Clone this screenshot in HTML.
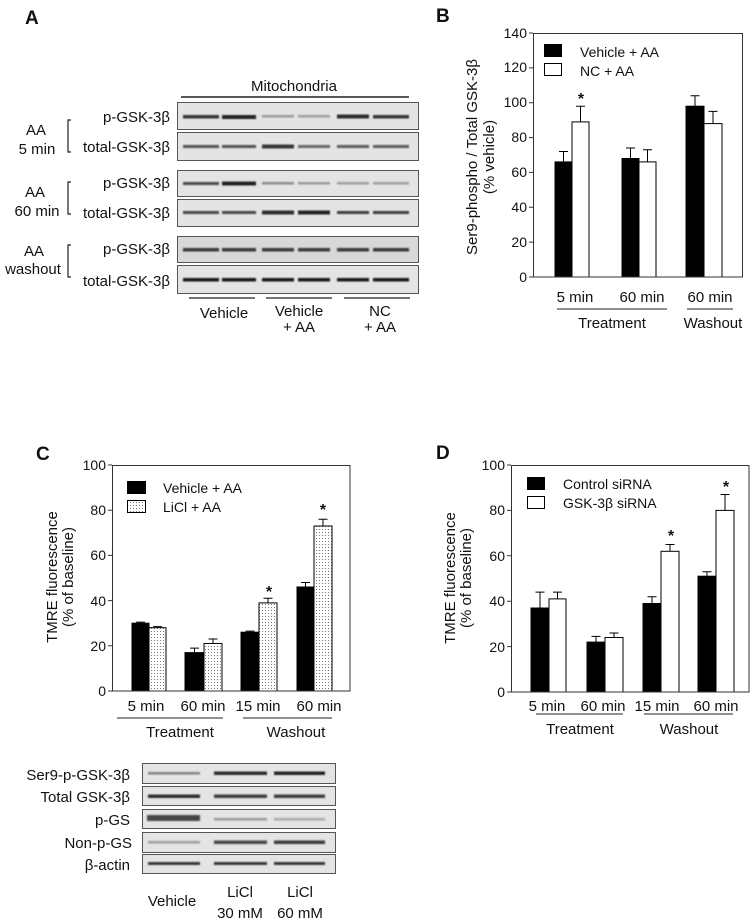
<!DOCTYPE html>
<html><head><meta charset="utf-8"><style>body{margin:0;background:#fff}svg{display:block}text{font-family:"Liberation Sans",sans-serif;fill:#111}</style></head><body>
<svg width="755" height="922" viewBox="0 0 755 922" xmlns="http://www.w3.org/2000/svg">
<defs>
<pattern id="dots" width="3" height="3" patternUnits="userSpaceOnUse"><rect width="3" height="3" fill="#fff"/><rect x="1" y="1" width="1" height="1" fill="#777"/></pattern>
<filter id="bl" x="-20%" y="-100%" width="140%" height="300%"><feGaussianBlur stdDeviation="0.9"/></filter>
</defs>
<g font-size="14">
<!-- Panel A -->
<text x="25" y="24" font-size="19" font-weight="bold">A</text>
<g font-size="15">
<text x="294" y="91" text-anchor="middle">Mitochondria</text>
</g>
<line x1="181" y1="97" x2="409" y2="97" stroke="#222" stroke-width="1.5"/>
<g fill="#e4e4e4" stroke="#555" stroke-width="1">
<rect x="177.5" y="102.5" width="241" height="27"/><rect x="177.5" y="132.5" width="241" height="28"/>
<rect x="177.5" y="170.5" width="241" height="26"/><rect x="177.5" y="199.5" width="241" height="27"/>
<rect x="177.5" y="236.5" width="241" height="26" fill="#d8d8d8"/><rect x="177.5" y="265.5" width="241" height="28"/>
</g>
<g filter="url(#bl)">
<g fill="#222"><rect x="183" y="115" width="36" height="3.5" opacity=".9"/><rect x="222" y="115" width="34" height="4" opacity="1"/><rect x="262" y="115" width="32" height="2.5" opacity=".4"/><rect x="298" y="115" width="32" height="2.5" opacity=".35"/><rect x="337" y="114.5" width="32" height="4" opacity=".95"/><rect x="373" y="115" width="36" height="3.5" opacity=".9"/></g>
<g fill="#222"><rect x="183" y="145" width="36" height="3" opacity=".75"/><rect x="222" y="145" width="34" height="3" opacity=".75"/><rect x="262" y="144.5" width="32" height="4" opacity=".9"/><rect x="298" y="145" width="32" height="3" opacity=".65"/><rect x="337" y="145" width="32" height="3" opacity=".7"/><rect x="373" y="145" width="36" height="3" opacity=".7"/></g>
<g fill="#222"><rect x="183" y="182" width="36" height="3" opacity=".8"/><rect x="222" y="181.5" width="34" height="4" opacity="1"/><rect x="262" y="182" width="32" height="2.5" opacity=".45"/><rect x="298" y="182" width="32" height="2.5" opacity=".4"/><rect x="337" y="182" width="32" height="2.5" opacity=".35"/><rect x="373" y="182" width="36" height="2.5" opacity=".35"/></g>
<g fill="#222"><rect x="183" y="211" width="36" height="3" opacity=".8"/><rect x="222" y="211" width="34" height="3" opacity=".8"/><rect x="262" y="210.5" width="32" height="4" opacity=".95"/><rect x="298" y="210.5" width="32" height="4" opacity="1"/><rect x="337" y="211" width="32" height="3" opacity=".85"/><rect x="373" y="211" width="36" height="3" opacity=".85"/></g>
<g fill="#222" opacity=".85"><rect x="183" y="248" width="36" height="3.5"/><rect x="222" y="248" width="34" height="3.5"/><rect x="262" y="248" width="32" height="3.5"/><rect x="298" y="248" width="32" height="3.5"/><rect x="337" y="248" width="32" height="3.5"/><rect x="373" y="248" width="36" height="3.5"/></g>
<g fill="#111" opacity=".95"><rect x="183" y="278" width="36" height="3.5"/><rect x="222" y="278" width="34" height="3.5"/><rect x="262" y="278" width="32" height="3.5"/><rect x="298" y="278" width="32" height="3.5"/><rect x="337" y="278" width="32" height="3.5"/><rect x="373" y="278" width="36" height="3.5"/></g>
</g>
<g font-size="15">
<g text-anchor="end">
<text x="170" y="122">p-GSK-3β</text><text x="170" y="152">total-GSK-3β</text>
<text x="170" y="188">p-GSK-3β</text><text x="170" y="218">total-GSK-3β</text>
<text x="170" y="254">p-GSK-3β</text><text x="170" y="286">total-GSK-3β</text>
</g>
<g text-anchor="middle">
<text x="36" y="135">AA</text><text x="37" y="154">5 min</text>
<text x="35" y="197">AA</text><text x="37" y="216">60 min</text>
<text x="34" y="256">AA</text><text x="33" y="274">washout</text>
</g>
<g text-anchor="middle"><text x="224" y="318">Vehicle</text><text x="299" y="316">Vehicle</text><text x="299" y="332">+ AA</text><text x="380" y="316">NC</text><text x="380" y="332">+ AA</text></g>
</g>
<g fill="none" stroke="#222" stroke-width="1.2">
<path d="M71 120 H68 V152 H71"/><path d="M71 182 H68 V214 H71"/><path d="M71 245 H68 V277 H71"/>
</g>
<g stroke="#222" stroke-width="1.2"><line x1="189" y1="298" x2="255" y2="298"/><line x1="266" y1="298" x2="332" y2="298"/><line x1="344" y1="298" x2="410" y2="298"/></g>

<!-- Panel B -->
<text x="436" y="22" font-size="19" font-weight="bold">B</text>
<g fill="#000" stroke="#000"><rect x="555" y="161.9" width="17" height="115.1"/><rect x="622" y="158.5" width="17" height="118.5"/><rect x="686" y="106.2" width="18" height="170.8"/></g>
<g fill="#fff" stroke="#000"><rect x="572" y="121.9" width="17" height="155.1"/><rect x="639" y="161.9" width="17" height="115.1"/><rect x="704" y="123.6" width="18" height="153.4"/></g>
<g stroke="#000" stroke-width="1">
<path d="M563.5 161.9V151.5M559 151.5H568"/><path d="M580.5 121.9V106.2M576 106.2H585"/>
<path d="M630.5 158.5V148M626 148H635"/><path d="M647.5 161.9V149.8M643 149.8H652"/>
<path d="M695 106.2V95.7M690.5 95.7H699.5"/><path d="M713 123.6V111.4M708.5 111.4H717.5"/>
</g>
<text x="581" y="104" text-anchor="middle" font-size="16" font-weight="bold">*</text>
<rect x="533.5" y="33.5" width="209" height="243.5" fill="none" stroke="#333"/>
<g stroke="#333"><path d="M529 277H533M529 242.1H533M529 207.3H533M529 172.4H533M529 137.6H533M529 102.7H533M529 67.9H533M529 33H533"/></g>
<g text-anchor="end" font-size="14"><text x="527" y="282">0</text><text x="527" y="247">20</text><text x="527" y="212">40</text><text x="527" y="177">60</text><text x="527" y="142">80</text><text x="527" y="107">100</text><text x="527" y="72">120</text><text x="527" y="38">140</text></g>
<rect x="544" y="44" width="18" height="13" fill="#000"/><rect x="544.5" y="63.5" width="17" height="12" fill="#fff" stroke="#000"/>
<text x="580" y="57">Vehicle + AA</text><text x="580" y="76">NC + AA</text>
<g text-anchor="middle" transform="rotate(-90)" font-size="15"><text x="-157" y="477">Ser9-phospho / Total GSK-3β</text><text x="-157" y="494">(% vehicle)</text></g>
<g text-anchor="middle" font-size="15"><text x="575" y="302">5 min</text><text x="642" y="302">60 min</text><text x="710" y="302">60 min</text><text x="612" y="328">Treatment</text><text x="713" y="328">Washout</text></g>
<g stroke="#222"><line x1="557" y1="309" x2="667" y2="309"/><line x1="687" y1="309" x2="733" y2="309"/></g>

<!-- Panel C -->
<text x="36" y="460" font-size="19" font-weight="bold">C</text>
<g fill="#000" stroke="#000"><rect x="132" y="623.2" width="17" height="67.8"/><rect x="185" y="652.6" width="19" height="38.4"/><rect x="241" y="632.2" width="18" height="58.8"/><rect x="297" y="587" width="17" height="104"/></g>
<g fill="url(#dots)" stroke="#000"><rect x="149" y="627.7" width="17" height="63.3"/><rect x="204" y="643.5" width="18" height="47.5"/><rect x="259" y="602.9" width="18" height="88.1"/><rect x="314" y="526" width="18" height="165"/></g>
<g stroke="#000">
<path d="M140.5 623.2V622.1M136 622.1H145"/><path d="M157.5 627.7V626.6M153 626.6H162"/>
<path d="M194.5 652.6V648.1M190 648.1H199"/><path d="M213 643.5V639M208.5 639H217.5"/>
<path d="M250 632.2V631.1M245.5 631.1H254.5"/><path d="M268 602.9V598.3M263.5 598.3H272.5"/>
<path d="M305.5 587V582.5M301 582.5H310"/><path d="M323 526V519.2M318.5 519.2H327.5"/>
</g>
<g text-anchor="middle" font-size="16" font-weight="bold"><text x="269" y="597">*</text><text x="323" y="515">*</text></g>
<rect x="112.5" y="465.5" width="237.5" height="225.5" fill="none" stroke="#333"/>
<g stroke="#333"><path d="M108 691H112M108 645.8H112M108 600.6H112M108 555.4H112M108 510.2H112M108 465H112"/></g>
<g text-anchor="end" font-size="14"><text x="106" y="696">0</text><text x="106" y="651">20</text><text x="106" y="606">40</text><text x="106" y="560">60</text><text x="106" y="515">80</text><text x="106" y="470">100</text></g>
<rect x="127" y="481" width="19" height="13" fill="#000"/><rect x="127.5" y="500.5" width="18" height="12" fill="url(#dots)" stroke="#000"/>
<text x="163" y="493">Vehicle + AA</text><text x="163" y="512">LiCl + AA</text>
<g text-anchor="middle" transform="rotate(-90)" font-size="15"><text x="-577" y="57">TMRE fluorescence</text><text x="-577" y="73">(% of baseline)</text></g>
<g text-anchor="middle" font-size="15"><text x="146" y="711">5 min</text><text x="203" y="711">60 min</text><text x="258" y="711">15 min</text><text x="319" y="711">60 min</text><text x="180" y="737">Treatment</text><text x="296" y="737">Washout</text></g>
<g stroke="#222"><line x1="117" y1="718" x2="223" y2="718"/><line x1="243" y1="718" x2="332" y2="718"/></g>
<g fill="#e4e4e4" stroke="#555"><rect x="142.5" y="763.5" width="193" height="20"/><rect x="142.5" y="786.5" width="193" height="19"/><rect x="142.5" y="809.5" width="193" height="19"/><rect x="142.5" y="832.5" width="193" height="20"/><rect x="142.5" y="854.5" width="193" height="19"/></g>
<g filter="url(#bl)" fill="#222">
<rect x="148" y="772" width="52" height="2.5" opacity=".5"/><rect x="214" y="771.5" width="53" height="3.5" opacity=".95"/><rect x="274" y="771.5" width="51" height="3.5" opacity="1"/>
<rect x="148" y="794.5" width="52" height="3.5" opacity=".95"/><rect x="214" y="794.5" width="53" height="3.5" opacity=".85"/><rect x="274" y="794.5" width="51" height="3.5" opacity=".85"/>
<rect x="147" y="815" width="53" height="6" opacity=".8"/><rect x="214" y="818" width="53" height="2.5" opacity=".4"/><rect x="274" y="818" width="51" height="2.5" opacity=".3"/>
<rect x="148" y="841" width="52" height="2.5" opacity=".35"/><rect x="214" y="840.5" width="53" height="3.5" opacity=".8"/><rect x="274" y="840.5" width="51" height="3.5" opacity=".85"/>
<rect x="148" y="862" width="52" height="3" opacity=".9"/><rect x="214" y="862" width="53" height="3" opacity=".9"/><rect x="274" y="862" width="51" height="3" opacity=".9"/>
</g>
<g font-size="15">
<g text-anchor="end"><text x="130" y="780">Ser9-p-GSK-3β</text><text x="130" y="802">Total GSK-3β</text><text x="130" y="825">p-GS</text><text x="132" y="848">Non-p-GS</text><text x="130" y="870">β-actin</text></g>
<g text-anchor="middle"><text x="172" y="906">Vehicle</text><text x="240" y="897">LiCl</text><text x="240" y="918">30 mM</text><text x="300" y="897">LiCl</text><text x="300" y="918">60 mM</text></g>
</g>

<!-- Panel D -->
<text x="436" y="459" font-size="19" font-weight="bold">D</text>
<g fill="#000" stroke="#000"><rect x="531" y="608" width="18" height="84"/><rect x="587" y="642.1" width="18" height="49.9"/><rect x="643" y="603.5" width="18" height="88.5"/><rect x="698" y="576.2" width="18" height="115.8"/></g>
<g fill="#fff" stroke="#000"><rect x="549" y="598.9" width="17" height="93.1"/><rect x="605" y="637.5" width="18" height="54.5"/><rect x="661" y="551.3" width="18" height="140.7"/><rect x="716" y="510.4" width="18" height="181.6"/></g>
<g stroke="#000">
<path d="M540 608V592.1M535.5 592.1H544.5"/><path d="M557.5 598.9V592.1M553 592.1H562"/>
<path d="M596 642.1V636.4M591.5 636.4H600.5"/><path d="M614 637.5V633M609.5 633H618.5"/>
<path d="M652 603.5V596.7M647.5 596.7H656.5"/><path d="M670 551.3V544.5M665.5 544.5H674.5"/>
<path d="M707 576.2V571.7M702.5 571.7H711.5"/><path d="M725 510.4V494.5M720.5 494.5H729.5"/>
</g>
<g text-anchor="middle" font-size="16" font-weight="bold"><text x="671" y="541">*</text><text x="726" y="492">*</text></g>
<rect x="511.5" y="465.5" width="237.5" height="226.5" fill="none" stroke="#333"/>
<g stroke="#333"><path d="M507 692H511M507 646.6H511M507 601.2H511M507 555.8H511M507 510.4H511M507 465H511"/></g>
<g text-anchor="end" font-size="14"><text x="505" y="697">0</text><text x="505" y="652">20</text><text x="505" y="606">40</text><text x="505" y="561">60</text><text x="505" y="515">80</text><text x="505" y="470">100</text></g>
<rect x="527" y="477" width="18" height="13" fill="#000"/><rect x="527.5" y="496.5" width="17" height="12" fill="#fff" stroke="#000"/>
<text x="563" y="489">Control siRNA</text><text x="563" y="508">GSK-3β siRNA</text>
<g text-anchor="middle" transform="rotate(-90)" font-size="15"><text x="-578" y="455">TMRE fluorescence</text><text x="-578" y="471">(% of baseline)</text></g>
<g text-anchor="middle" font-size="15"><text x="547" y="711">5 min</text><text x="603" y="711">60 min</text><text x="657" y="711">15 min</text><text x="716" y="711">60 min</text><text x="580" y="734">Treatment</text><text x="689" y="734">Washout</text></g>
<g stroke="#222"><line x1="536" y1="714" x2="623" y2="714"/><line x1="644" y1="714" x2="733" y2="714"/></g>
</g>
</svg>
</body></html>
